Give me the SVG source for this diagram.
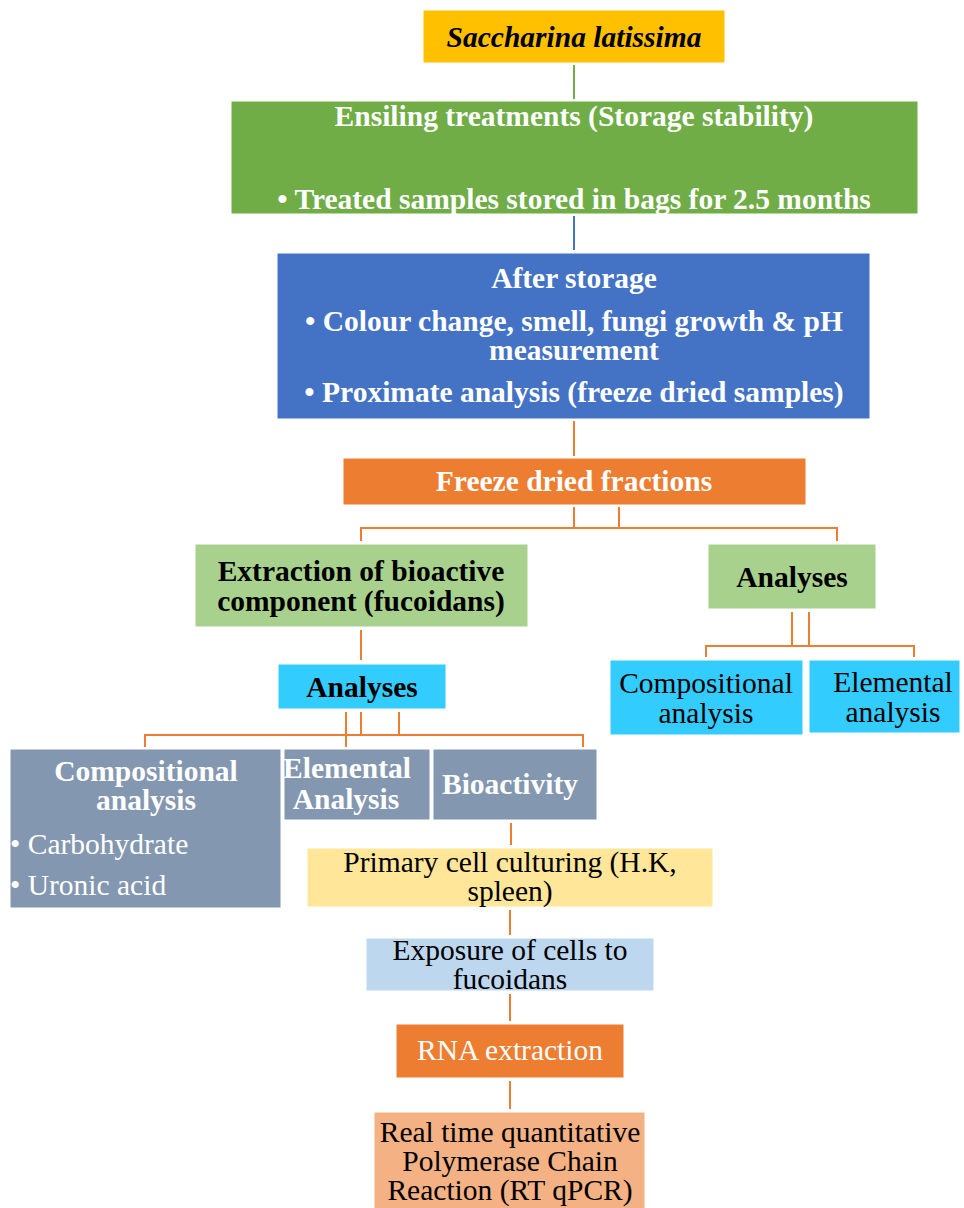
<svg xmlns="http://www.w3.org/2000/svg" width="964" height="1208" viewBox="0 0 964 1208">
<style>
  text { font-family: "Liberation Serif", "Times New Roman", serif; font-size: 29.5px; text-anchor: middle; dominant-baseline: central; }
  .b { font-weight: bold; }
  .w { fill: #ffffff; }
  .k { fill: #000000; }
  .l { text-anchor: start; }
  .box { stroke: #ffffff; stroke-width: 1; }
  .c { fill: none; stroke-width: 2; }
  .o { stroke: #ED7D31; }
</style>
<rect width="964" height="1208" fill="#ffffff"/>
<g id="connectors">
  <line class="c" x1="574" y1="65" x2="574" y2="99" stroke="#70AD47"/>
  <line class="c" x1="574" y1="216" x2="574" y2="250" stroke="#4472C4"/>
  <line class="c o" x1="574" y1="421" x2="574" y2="456"/>
  <polyline class="c o" points="574,507 574,528"/>
  <polyline class="c o" points="619,507 619,528"/>
  <polyline class="c o" points="361,541 361,528 837,528 837,541"/>
  <line class="c o" x1="361" y1="630" x2="361" y2="660"/>
  <polyline class="c o" points="792,612 792,646"/>
  <polyline class="c o" points="809,612 809,646"/>
  <polyline class="c o" points="706,657 706,646 914,646 914,657"/>
  <line class="c o" x1="346" y1="712" x2="346" y2="747"/>
  <line class="c o" x1="361" y1="712" x2="361" y2="735"/>
  <line class="c o" x1="399" y1="712" x2="399" y2="735"/>
  <polyline class="c o" points="145,747 145,735 583,735 583,747"/>
  <line class="c o" x1="511" y1="823" x2="511" y2="845"/>
  <line class="c o" x1="510" y1="910" x2="510" y2="935"/>
  <line class="c o" x1="510" y1="994" x2="510" y2="1021"/>
  <line class="c o" x1="510" y1="1081" x2="510" y2="1109"/>
</g>
<g id="saccharina">
  <rect class="box" x="423" y="10" width="302" height="53" fill="#FFC000"/>
  <text class="k b" x="574" y="37" font-style="italic">Saccharina latissima</text>
</g>
<g id="ensiling">
  <rect class="box" x="231" y="101" width="687" height="113" fill="#70AD47"/>
  <text class="w b" x="574" y="116">Ensiling treatments (Storage stability)</text>
  <text class="w b" x="574" y="199">• Treated samples stored in bags for 2.5 months</text>
</g>
<g id="after-storage">
  <rect class="box" x="277" y="253" width="593" height="166" fill="#4472C4"/>
  <text class="w b" x="574" y="278">After storage</text>
  <text class="w b" x="574" y="321">• Colour change, smell, fungi growth &amp; pH</text>
  <text class="w b" x="574" y="350">measurement</text>
  <text class="w b" x="574" y="392">• Proximate analysis (freeze dried samples)</text>
</g>
<g id="freeze-dried">
  <rect class="box" x="343" y="458" width="463" height="47" fill="#ED7D31"/>
  <text class="w b" x="574" y="481">Freeze dried fractions</text>
</g>
<g id="extraction">
  <rect class="box" x="195" y="544" width="333" height="83" fill="#A9D18E"/>
  <text class="k b" x="361" y="571">Extraction of bioactive</text>
  <text class="k b" x="361" y="601">component (fucoidans)</text>
</g>
<g id="analyses-right">
  <rect class="box" x="708" y="544" width="168" height="65" fill="#A9D18E"/>
  <text class="k b" x="792" y="577">Analyses</text>
</g>
<g id="compositional-right">
  <rect class="box" x="610" y="660" width="193" height="75" fill="#33CCFF"/>
  <text class="k" x="706" y="683">Compositional</text>
  <text class="k" x="706" y="713">analysis</text>
</g>
<g id="elemental-right">
  <rect class="box" x="809" y="660" width="151" height="73" fill="#33CCFF"/>
  <text class="k" x="893" y="682">Elemental</text>
  <text class="k" x="893" y="712">analysis</text>
</g>
<g id="analyses-left">
  <rect class="box" x="278" y="664" width="168" height="45" fill="#33CCFF"/>
  <text class="k b" x="362" y="687">Analyses</text>
</g>
<g id="compositional-left">
  <rect class="box" x="10" y="749" width="271" height="159" fill="#8497B0"/>
  <text class="w b" x="146" y="771">Compositional</text>
  <text class="w b" x="146" y="800">analysis</text>
  <text class="w l" x="10" y="844">• Carbohydrate</text>
  <text class="w l" x="10" y="885">• Uronic acid</text>
</g>
<g id="elemental-left">
  <rect class="box" x="284" y="749" width="146" height="71" fill="#8497B0"/>
  <text class="w b" x="347" y="768">Elemental</text>
  <text class="w b" x="346" y="799">Analysis</text>
</g>
<g id="bioactivity">
  <rect class="box" x="433" y="749" width="164" height="71" fill="#8497B0"/>
  <text class="w b" x="510" y="784">Bioactivity</text>
</g>
<g id="primary-cell">
  <rect class="box" x="307" y="848" width="406" height="59" fill="#FFE699"/>
  <text class="k" x="510" y="862">Primary cell culturing (H.K,</text>
  <text class="k" x="510" y="891">spleen)</text>
</g>
<g id="exposure">
  <rect class="box" x="366" y="938" width="288" height="53" fill="#BDD7EE"/>
  <text class="k" x="510" y="950">Exposure of cells to</text>
  <text class="k" x="510" y="979">fucoidans</text>
</g>
<g id="rna">
  <rect class="box" x="396" y="1024" width="228" height="54" fill="#ED7D31"/>
  <text class="w" x="510" y="1050">RNA extraction</text>
</g>
<g id="rtqpcr">
  <rect class="box" x="374" y="1112" width="271" height="100" fill="#F4B183"/>
  <text class="k" x="510" y="1132">Real time quantitative</text>
  <text class="k" x="510" y="1161">Polymerase Chain</text>
  <text class="k" x="510" y="1190">Reaction (RT qPCR)</text>
</g>
</svg>
